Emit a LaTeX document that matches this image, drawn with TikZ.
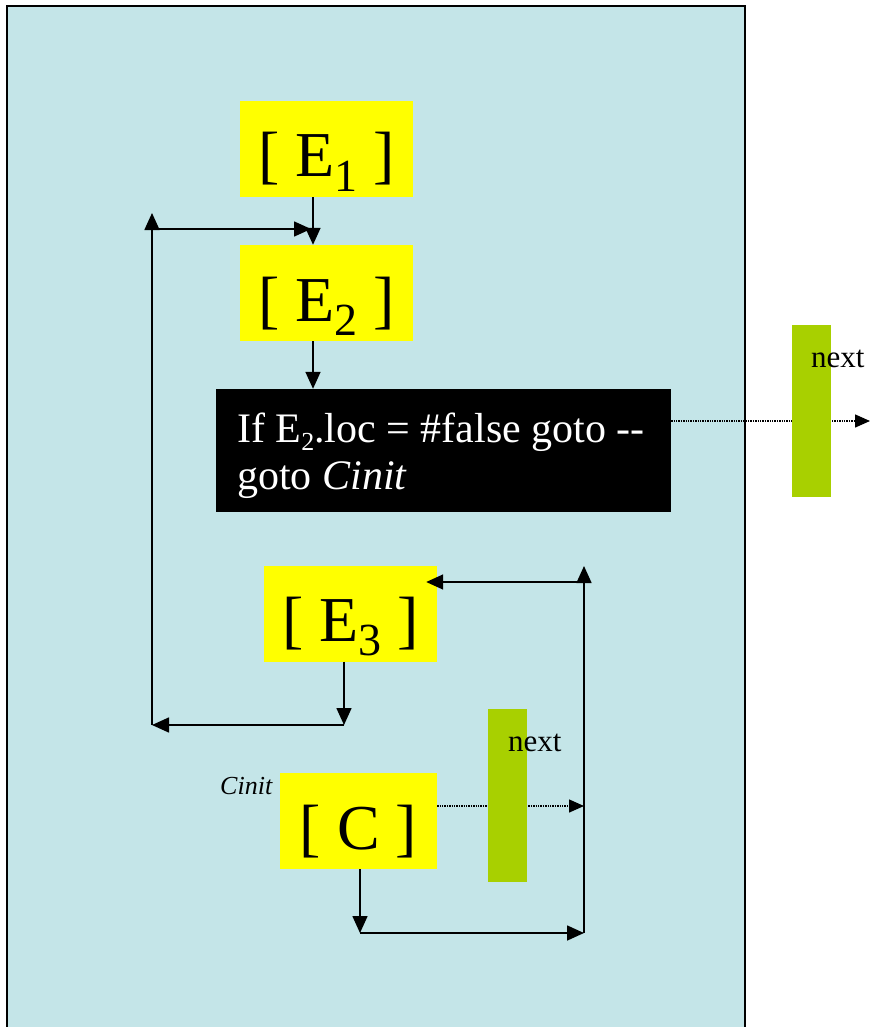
\documentclass[tikz,border=0pt]{standalone}
\usepackage{fontspec}
\setmainfont{Liberation Serif}
\usetikzlibrary{arrows.meta}
\definecolor{panelblue}{HTML}{C4E5E8}
\definecolor{boxyellow}{HTML}{FFFF00}
\definecolor{bargreen}{HTML}{A8D000}
\newcommand{\mysub}[3]{\raisebox{#2}{\fontsize{#1}{#1}\selectfont #3}}
\begin{document}
\begin{tikzpicture}[x=1pt,y=-1pt,
  ybox/.style={fill=boxyellow, inner sep=0, minimum height=96, text height=76, text depth=20, font=\fontsize{64}{64}\selectfont},
  gbar/.style={fill=bargreen, inner sep=0, minimum width=39},
  lbl/.style={anchor=base west, inner sep=0},
  arr/.style={line width=1.6pt, -{Triangle[length=17pt,width=15pt]}},
  dotarr/.style={line width=1.4pt, densely dotted, -{Triangle[length=15pt,width=13pt]}},
]
\useasboundingbox (0,0) rectangle (870,1027);
\clip (0,0) rectangle (870,1027);
% panel
\draw[fill=panelblue, line width=1.6pt] (7,6) rectangle (745,1045);

% boxes
\node[ybox, minimum width=173] (e1) at (326.5,149) {[ E\mysub{46}{-14pt}{1} ]};
\node[ybox, minimum width=173] (e2) at (326.5,293) {[ E\mysub{46}{-14pt}{2} ]};
\node[ybox, minimum width=173] (e3) at (350.5,613.5) {[ E\mysub{46}{-14pt}{3} ]};
\node[ybox, minimum width=157] (c) at (358.5,821) {[ C ]};
\node[fill=black, inner sep=0, minimum width=455, minimum height=123] (cond) at (443.5,450.5) {};
\node[lbl, text=white, font=\fontsize{42}{42}\selectfont] (cl1) at (237,442) {If E\mysub{26}{-8pt}{2}.loc = \#false goto -{}-};
\node[lbl, text=white, font=\fontsize{42}{42}\selectfont] (cl2) at (237,489) {goto \textit{Cinit}};
\node[lbl, font=\fontsize{26}{26}\selectfont\itshape] (cinit) at (220,794) {Cinit};

% coordinates
\coordinate (l1) at (152,725);
\coordinate (l1top) at (152,213);
\coordinate (l1h) at (152,229);
\coordinate (l1hend) at (311,229);
\coordinate (e3low) at (344,725);
\coordinate (r1top) at (584,566);
\coordinate (r1bot) at (584,933);
\coordinate (r1h) at (584,582);
\coordinate (clow) at (360,933);
\coordinate (cdotend) at (584,806);
\coordinate (conddotend) at (870,421);

% dotted connectors (behind bars)
\draw[dotarr] (cond.east |- conddotend) -- (conddotend);
\draw[dotarr] (c.east |- cdotend) -- (cdotend);

% green bars
\node[gbar, minimum height=172] (bar1) at (811.5,411) {};
\node[gbar, minimum height=173] (bar2) at (507.5,795.5) {};
\node[lbl, font=\fontsize{31}{31}\selectfont] (next1) at (811,367) {next};
\node[lbl, font=\fontsize{31}{31}\selectfont] (next2) at (508,751) {next};

% solid connectors
\draw[arr] ([xshift=-13.5pt]e1.south) -- ([xshift=-13.5pt]e2.north);
\draw[arr] ([xshift=-13.5pt]e2.south) -- (cond.north -| 313,0);
\draw[arr] (l1) -- (l1top);
\draw[arr] (l1h) -- (l1hend);
\draw[arr] (e3.south -| e3low) -- (e3low);
\draw[arr] (e3low) -- (l1);
\draw[arr] (c.south -| clow) -- (clow);
\draw[arr] (clow) -- (r1bot);
\draw[arr] (r1bot) -- (r1top);
\draw[arr] (r1h) -- ([xshift=-11pt]e3.east |- r1h);
\end{tikzpicture}
\end{document}
